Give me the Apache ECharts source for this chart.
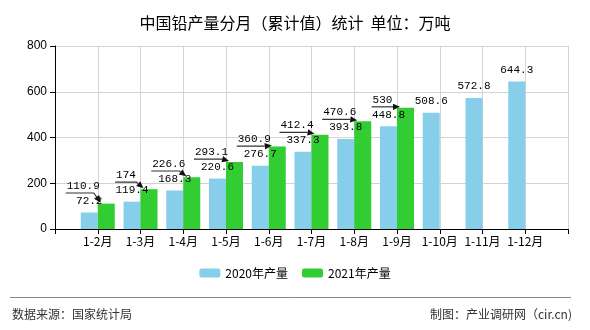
<!DOCTYPE html>
<html><head><meta charset="utf-8">
<script src="https://cdn.jsdelivr.net/npm/echarts@6/dist/echarts.min.js"></script>
<style>html,body{margin:0;padding:0;background:#fff}#c{width:590px;height:330px}</style>
</head><body><div id="c"></div>
<script>
const categories = ['1-2月','1-3月','1-4月','1-5月','1-6月','1-7月','1-8月','1-9月','1-10月','1-11月','1-12月'];
const values2020 = [72.2, 119.4, 168.3, 220.6, 276.7, 337.3, 393.8, 448.8, 508.6, 572.8, 644.3];
const values2021 = [110.9, 174, 226.6, 293.1, 360.9, 412.4, 470.6, 530, null, null, null];
const seriesNames = ['2020年产量', '2021年产量'];
const yTicks = {min: 0, max: 800, interval: 200};

// pad the axis with an empty slot on each side so categories sit on the grid lines
const axisCats = [''].concat(categories, ['']);
const pad = arr => [null].concat(arr, [null]);

const chart = echarts.init(document.getElementById('c'));
const LABEL_FONT = '11px "Liberation Mono", monospace';
const CHAR_W = 6.6, DIST = 6, BAR_W = 17, HALF_H = 6.5, STEP = 14;
const lbl = {show: true, position: 'top', color: '#000', fontSize: 11, fontFamily: 'Liberation Mono, monospace', distance: DIST};

// 2021 labels: drawn through the axes; when one collides with the 2020 label
// of the same month it is lifted above it and gets a leader line with an arrow.
const labelData = values2021.map((v, i) => [i + 1, values2020[i], v]).filter(d => d[2] != null);
function renderLabel2021(params, api) {
  const cat = api.value(0), v20 = api.value(1), v21 = api.value(2);
  const p20 = api.coord([cat, v20]);
  const p21 = api.coord([cat, v21]);
  const x = p20[0];
  const text = String(v21);
  const w = text.length * CHAR_W;
  if (p20[1] - p21[1] >= 19.5) {
    return {type: 'text', style: {text, x: x + BAR_W / 2, y: p21[1] - DIST - HALF_H, textAlign: 'center',
      textVerticalAlign: 'middle', font: LABEL_FONT, fill: '#000'}};
  }
  const cx = x - BAR_W / 2 - 6;
  const cy = p20[1] - DIST - HALF_H - STEP;
  const lineY = cy + 7;
  const end = [x + 3, p21[1] - 1];
  const start = [x - 4, lineY];
  const dx = end[0] - start[0], dy = end[1] - start[1];
  const len = Math.sqrt(dx * dx + dy * dy) || 1;
  const ux = dx / len, uy = dy / len;
  const aL = 7, aW = 3.2;
  const base = [end[0] - ux * aL, end[1] - uy * aL];
  return {type: 'group', children: [
    {type: 'text', style: {text, x: cx, y: cy, textAlign: 'center', textVerticalAlign: 'middle',
      font: LABEL_FONT, fill: '#000'}},
    {type: 'polyline', shape: {points: [[cx - w / 2 - 1, lineY], start, base]},
      style: {stroke: '#333', lineWidth: 1.2, fill: null}},
    {type: 'polygon', shape: {points: [end, [base[0] - uy * aW, base[1] + ux * aW], [base[0] + uy * aW, base[1] - ux * aW]]},
      style: {fill: '#111'}}
  ]};
}

chart.setOption({
  animation: false,
  title: {text: '中国铅产量分月（累计值）统计  单位：万吨', left: 'center', top: 10,
    textStyle: {fontSize: 16, fontWeight: 'normal', color: '#000', fontFamily: 'Noto Sans CJK SC'}},
  grid: {left: 55, right: 22, top: 46, bottom: 101},
  legend: {bottom: 46, left: 'center', itemWidth: 21, itemHeight: 9, itemGap: 14,
    textStyle: {fontSize: 12, color: '#000', fontFamily: 'Noto Sans CJK SC'}, data: seriesNames},
  xAxis: {type: 'category', data: axisCats, boundaryGap: false,
    axisLine: {lineStyle: {color: '#000'}}, axisTick: {show: true, interval: 0, lineStyle: {color: '#000'}},
    axisLabel: {color: '#000', fontSize: 12, fontFamily: 'Noto Sans CJK SC', margin: 6, interval: 0},
    splitLine: {show: true, interval: 0, lineStyle: {color: '#d3d3d3'}}},
  yAxis: {type: 'value', min: yTicks.min, max: yTicks.max, interval: yTicks.interval,
    axisLine: {show: true, lineStyle: {color: '#000'}}, axisTick: {show: true, lineStyle: {color: '#000'}},
    axisLabel: {color: '#000', fontSize: 12, fontFamily: 'Liberation Sans'},
    splitLine: {lineStyle: {color: '#d3d3d3'}}},
  series: [
    {name: seriesNames[0], type: 'bar', data: pad(values2020), barGap: '0%', barWidth: BAR_W,
      itemStyle: {color: '#87CEEB'}, label: lbl},
    {name: seriesNames[1], type: 'bar', data: pad(values2021), barWidth: BAR_W,
      itemStyle: {color: '#32CD32'}},
    {name: 'labels2021', type: 'custom', data: labelData, renderItem: renderLabel2021, z: 5, silent: true}
  ],
  graphic: [
    {type: 'line', shape: {x1: 10, y1: 297.5, x2: 571, y2: 297.5}, style: {stroke: '#888', lineWidth: 1}},
    {type: 'text', left: 12, top: 308, style: {text: '数据来源：国家统计局', fontSize: 12, fill: '#333', fontFamily: 'Noto Sans CJK SC'}},
    {type: 'text', right: 18, top: 308, style: {text: '制图：产业调研网（cir.cn)', fontSize: 12, fill: '#333', fontFamily: 'Noto Sans CJK SC'}}
  ]
});
</script></body></html>
